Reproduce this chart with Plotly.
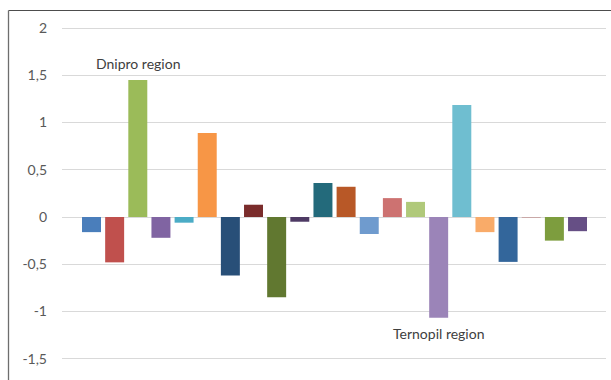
import plotly.graph_objects as go

# Bar values per region (index order along the axis)
positions = list(range(22))
values = [-0.16, -0.48, 1.45, -0.22, -0.06, 0.89, -0.62, 0.13, -0.85, -0.05, 0.36,
          0.32, -0.18, 0.20, 0.16, -1.065, 1.185, -0.16, -0.475, -0.01, -0.25, -0.15]
colors = ["#4A7EBB", "#C0504D", "#9BBB59", "#8064A2", "#4BACC6", "#F79646",
          "#284F78", "#7A2C2B", "#617830", "#4E3A64", "#236A7B", "#B85827",
          "#6F9BCE", "#CD7271", "#B0C97A", "#9B84B8", "#6FBED0", "#F9AB69",
          "#33669B", "#C9A8A7", "#7D9D3E", "#664F85"]

tick_vals = [-1.5, -1, -0.5, 0, 0.5, 1, 1.5, 2]
tick_text = ["-1,5", "-1", "-0,5", "0", "0,5", "1", "1,5", "2"]

labels = [
    {"text": "Dnipro region", "pos": 2, "y": 1.62},
    {"text": "Ternopil region", "pos": 15, "y": -1.23},
]

font_family = "Lato"

fig = go.Figure(
    go.Bar(
        x=positions,
        y=values,
        marker=dict(color=colors, line=dict(width=0)),
        width=0.82,
        hoverinfo="y",
    )
)

W, H = 611, 380
ml, mr, mt, mb = 62, 5, 20, 0
plot_w = W - ml - mr
plot_h = H - mt - mb

fig.update_layout(
    width=W,
    height=H,
    margin=dict(l=ml, r=mr, t=mt, b=mb),
    paper_bgcolor="white",
    plot_bgcolor="white",
    showlegend=False,
    font=dict(family=font_family, size=14, color="#595959"),
    xaxis=dict(
        range=[-1.275, 22.23],
        showticklabels=False,
        showgrid=False,
        zeroline=False,
        showline=False,
        ticks="",
    ),
    yaxis=dict(
        range=[-1.725, 2.085],
        tickvals=tick_vals,
        ticktext=tick_text,
        showgrid=True,
        gridcolor="#D9D9D9",
        gridwidth=1,
        zeroline=False,
        showline=False,
        ticks="",
        ticklabelstandoff=14,
        tickfont=dict(family=font_family, size=14, color="#595959"),
    ),
)

for lab in labels:
    fig.add_annotation(
        x=lab["pos"], y=lab["y"], xref="x", yref="y",
        text=lab["text"], showarrow=False,
        xanchor="center", yanchor="middle",
        font=dict(family=font_family, size=14, color="#404040"),
    )

# Chart frame (top and left edges visible)
fx = (8.5 - ml) / plot_w
fy = 1 + (mt - 10.5) / plot_h
fig.add_shape(type="line", xref="paper", yref="paper",
              x0=fx, y0=fy, x1=1 + mr / plot_w, y1=fy,
              line=dict(color="#4D4D4D", width=1))
fig.add_shape(type="line", xref="paper", yref="paper",
              x0=fx, y0=fy, x1=fx, y1=-mb / plot_h - 0.05,
              line=dict(color="#6E6E6E", width=1.3))

fig.write_html("out.html")
